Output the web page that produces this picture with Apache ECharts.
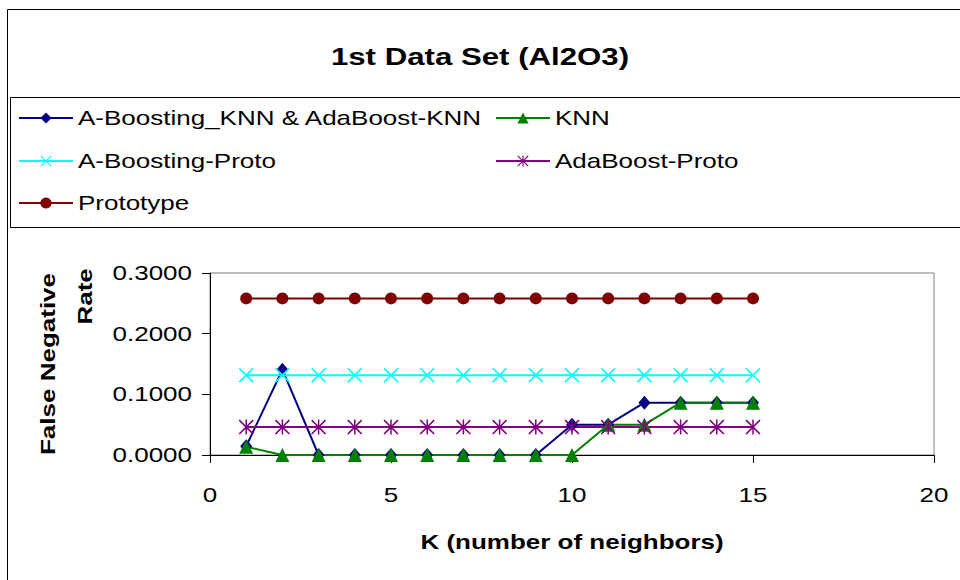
<!DOCTYPE html>
<html>
<head>
<meta charset="utf-8">
<script src="https://cdn.jsdelivr.net/npm/echarts@6/dist/echarts.min.js"></script>
<style>
  html, body { margin: 0; padding: 0; background: #fff; }
  #chart { width: 960px; height: 580px; }
</style>
</head>
<body>
<div id="chart"></div>
<script>
// K values (number of neighbors)
const kValues = [1, 2, 3, 4, 5, 6, 7, 8, 9, 10, 11, 12, 13, 14, 15];

// False negative rate per method
const aBoostKnn = [0.0145, 0.1406, 0, 0, 0, 0, 0, 0, 0, 0.0500, 0.0500, 0.0862, 0.0862, 0.0862, 0.0862];
const knn       = [0.0135, 0, 0, 0, 0, 0, 0, 0, 0, 0, 0.0500, 0.0500, 0.0862, 0.0862, 0.0862];
const aBoostProto = [0.1316, 0.1316, 0.1316, 0.1316, 0.1316, 0.1316, 0.1316, 0.1316, 0.1316, 0.1316, 0.1316, 0.1316, 0.1316, 0.1316, 0.1316];
const adaProto    = [0.0461, 0.0461, 0.0461, 0.0461, 0.0461, 0.0461, 0.0461, 0.0461, 0.0461, 0.0461, 0.0461, 0.0461, 0.0461, 0.0461, 0.0461];
const prototype   = [0.2581, 0.2581, 0.2581, 0.2581, 0.2581, 0.2581, 0.2581, 0.2581, 0.2581, 0.2581, 0.2581, 0.2581, 0.2581, 0.2581, 0.2581];

const seriesNames = ['A-Boosting_KNN & AdaBoost-KNN', 'KNN', 'A-Boosting-Proto', 'AdaBoost-Proto', 'Prototype'];

// Axis ranges
const yTicks = [0, 0.1, 0.2, 0.3];
const xTicks = [0, 5, 10, 15, 20];

const FONT = 'Liberation Sans, Arial, sans-serif';
// Horizontal widening applied to every text (wide Arial look)
const TEXT_STRETCH = 1.3;

// Stroke-like marker shapes drawn as thin filled polygons
const crossPath = 'path://M0,1.5 L1.5,0 L10,8.5 L18.5,0 L20,1.5 L11.5,10 L20,18.5 L18.5,20 L10,11.5 L1.5,20 L0,18.5 L8.5,10 Z';
const starPath = 'path://M0,1.5 L1.5,0 L10,8.5 L18.5,0 L20,1.5 L11.5,10 L20,18.5 L18.5,20 L10,11.5 L1.5,20 L0,18.5 L8.5,10 Z M9,0 L11,0 L11,20 L9,20 Z';

function pairs(vals) {
  return kValues.map((k, i) => [k, vals[i]]);
}

function lineSeries(name, vals, color, symbol, size) {
  return {
    name: name,
    type: 'line',
    data: pairs(vals),
    symbol: symbol,
    symbolSize: size,
    showAllSymbol: true,
    lineStyle: { color: color, width: 2 },
    itemStyle: { color: color },
    emphasis: { disabled: true },
    animation: false
  };
}

function legendAt(name, left, centerY) {
  return {
    data: [name],
    left: left,
    top: centerY - 12,
    itemWidth: 54,
    itemHeight: 14,
    itemGap: 0,
    selectedMode: false,
    padding: 0,
    textStyle: { fontFamily: FONT, fontSize: 20, color: '#000', lineHeight: 24, padding: [0, 0, 0, 0] }
  };
}

const chart = echarts.init(document.getElementById('chart'), null, { renderer: 'svg' });

chart.setOption({
  backgroundColor: '#fff',
  animation: false,
  title: {
    text: '1st Data Set (Al2O3)',
    left: 'center',
    top: 40,
    textStyle: { fontFamily: FONT, fontSize: 24, fontWeight: 'bold', color: '#000' }
  },
  legend: [
    legendAt(seriesNames[0], 18, 118),
    legendAt(seriesNames[1], 495, 118),
    legendAt(seriesNames[2], 18, 161),
    legendAt(seriesNames[3], 495, 161),
    legendAt(seriesNames[4], 18, 203)
  ],
  graphic: [
    { type: 'rect', shape: { x: 7.5, y: 9.5, width: 1000, height: 1000 }, style: { fill: 'none', stroke: '#000', lineWidth: 1 }, silent: true, z: -1 },
    { type: 'rect', shape: { x: 10.5, y: 97.5, width: 1000, height: 130 }, style: { fill: 'none', stroke: '#000', lineWidth: 1 }, silent: true, z: -1 }
  ],
  grid: {
    left: 210, right: 26, top: 273, bottom: 125,
    show: true, borderColor: '#808080', borderWidth: 1, backgroundColor: '#fff'
  },
  xAxis: {
    type: 'value',
    min: xTicks[0], max: xTicks[xTicks.length - 1], interval: 5,
    name: 'K (number of neighbors)',
    nameLocation: 'middle',
    nameGap: 77,
    nameTextStyle: { fontFamily: FONT, fontSize: 20, fontWeight: 'bold', color: '#000' },
    axisLine: { show: true, lineStyle: { color: '#000', width: 1 } },
    axisTick: { show: true, length: 8, lineStyle: { color: '#000' } },
    axisLabel: { fontFamily: FONT, fontSize: 20, color: '#000', margin: 30 },
    splitLine: { show: false }
  },
  yAxis: {
    type: 'value',
    min: yTicks[0], max: yTicks[yTicks.length - 1], interval: 0.1,
    name: '{a|False Negative}\n{b|Rate}',
    nameLocation: 'middle',
    nameRotate: 90,
    nameGap: 106,
    nameTextStyle: {
      fontFamily: FONT, fontSize: 20, fontWeight: 'bold', color: '#000', lineHeight: 37,
      rich: {
        a: { fontFamily: FONT, fontSize: 20, fontWeight: 'bold', color: '#000', lineHeight: 37 },
        b: { fontFamily: FONT, fontSize: 20, fontWeight: 'bold', color: '#000', lineHeight: 37, padding: [0, 0, 0, 104] }
      }
    },
    axisLine: { show: true, lineStyle: { color: '#000', width: 1 } },
    axisTick: { show: true, length: 8, lineStyle: { color: '#000' } },
    axisLabel: { fontFamily: FONT, fontSize: 20, color: '#000', margin: 18, formatter: v => v.toFixed(4) },
    splitLine: { show: false }
  },
  series: [
    lineSeries(seriesNames[0], aBoostKnn, '#000080', 'diamond', [12, 14]),
    lineSeries(seriesNames[1], knn, '#008000', 'triangle', 14),
    lineSeries(seriesNames[2], aBoostProto, '#00FFFF', crossPath, 15),
    lineSeries(seriesNames[3], adaProto, '#800080', starPath, 15),
    lineSeries(seriesNames[4], prototype, '#800000', 'circle', 12)
  ]
});

// Widen every text element around its own anchor point
(function stretchTexts(sx) {
  try {
    const zr = chart.getZr();
    const seen = new Set();
    const apply = function (el) {
      if (!el || el.type !== 'text' || seen.has(el)) return;
      seen.add(el);
      el.originX = (el.style && el.style.x) || 0;
      el.originY = (el.style && el.style.y) || 0;
      el.scaleX = sx;
      el.markRedraw();
    };
    zr.storage.getDisplayList(true).forEach(function (d) { apply(d.parent); });
    zr.refreshImmediately();
  } catch (e) { /* leave texts unchanged */ }
})(TEXT_STRETCH);
</script>
</body>
</html>
